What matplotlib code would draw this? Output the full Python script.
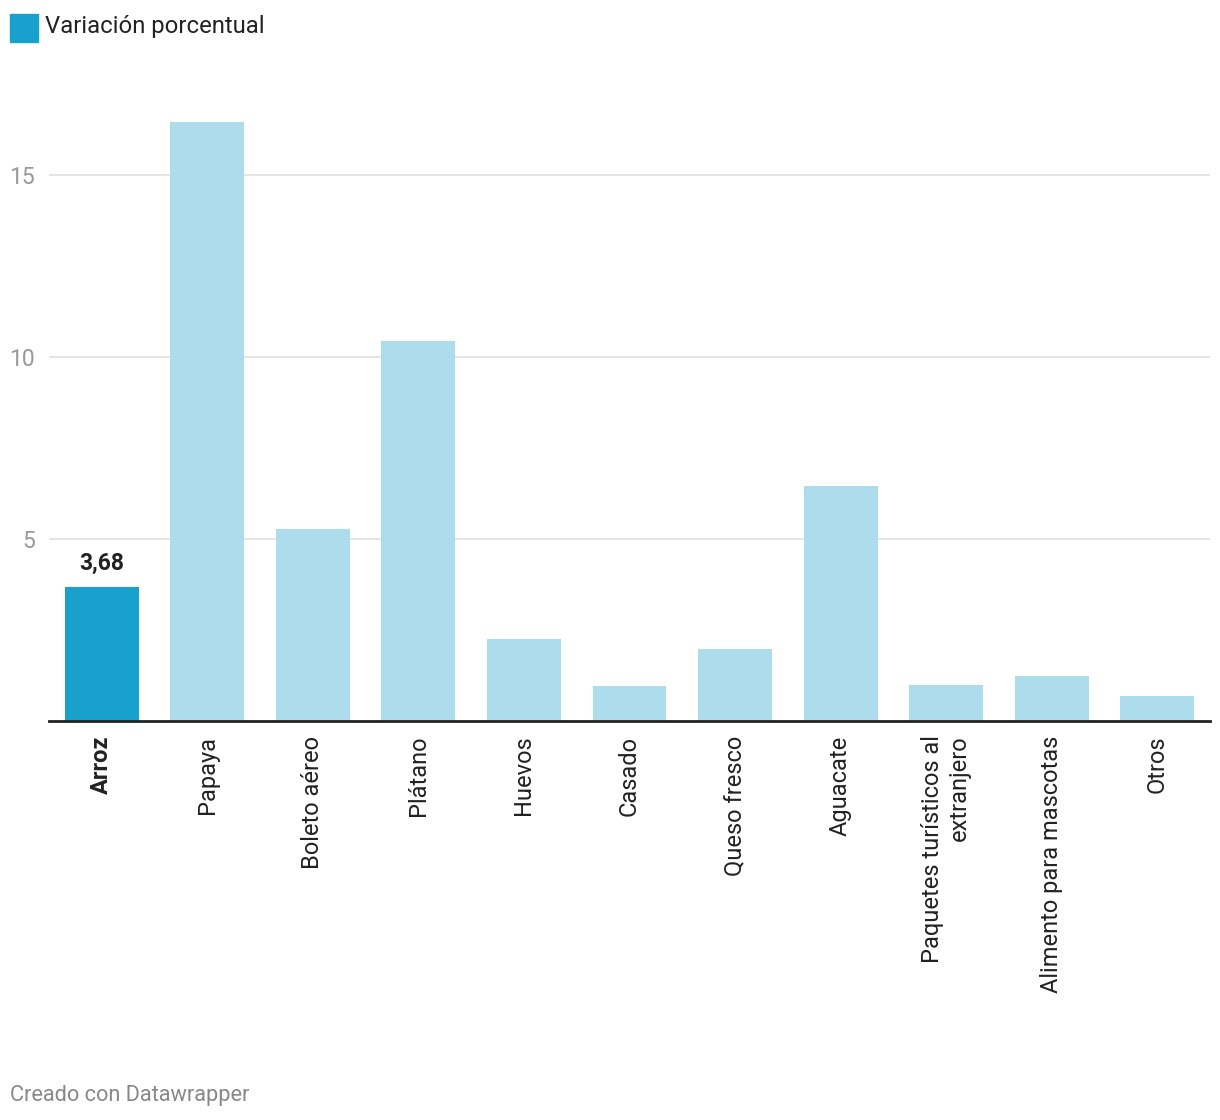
import matplotlib.pyplot as plt
import matplotlib.patches as mpatches

plt.rcParams['font.family'] = ['Roboto', 'DejaVu Sans']

# Data
categories = ["Arroz", "Papaya", "Boleto aéreo", "Plátano", "Huevos", "Casado",
              "Queso fresco", "Aguacate", "Paquetes turísticos al\nextranjero",
              "Alimento para mascotas", "Otros"]
values = [3.68, 16.46, 5.27, 10.44, 2.25, 0.96, 1.98, 6.46, 0.99, 1.24, 0.69]
highlight = "Arroz"
yticks = [5, 10, 15]
legend_label = "Variación porcentual"
footer = "Creado con Datawrapper"

dark = "#18a1cd"
light = "#addcec"
colors = [dark if c == highlight else light for c in categories]

fig = plt.figure(figsize=(12.2, 11.2), dpi=100)
ax = fig.add_axes([49 / 1220, 1 - 721 / 1120, (1210 - 49) / 1220, 618.8 / 1120])

x = list(range(len(categories)))
ax.bar(x, values, width=0.7, color=colors, zorder=2)
ax.set_xlim(-0.5, len(categories) - 0.5)
ax.set_ylim(0, 17)

# grid
for t in yticks:
    ax.axhline(t, color="#e0e0e0", linewidth=1.2, zorder=1)
ax.set_yticks(yticks)
ax.set_yticklabels([str(t) for t in yticks], color="#999999", fontsize=16.5)
ax.tick_params(axis="y", length=0, pad=10)

for s in ["top", "right", "left"]:
    ax.spines[s].set_visible(False)
ax.spines["bottom"].set_color("#222222")
ax.spines["bottom"].set_linewidth(2)
ax.spines["bottom"].set_zorder(3)

# x labels
ax.set_xticks(x)
ax.set_xticklabels([])
ax.tick_params(axis="x", length=0)
for i, c in enumerate(categories):
    ax.text(i, -0.4, c, rotation=90, ha="center", va="top", multialignment="right",
            fontsize=17, color="#222222",
            fontweight="bold" if c == highlight else "normal")

# value label on highlight
hi = categories.index(highlight)
ax.text(hi, values[hi] + 0.35, f"{values[hi]:.2f}".replace(".", ","),
        ha="center", va="bottom", fontsize=16.5, fontweight="bold", color="#222222")

# legend
fig.patches.append(mpatches.Rectangle((10 / 1220, 1 - 42 / 1120), 28 / 1220, 28 / 1120,
                                      transform=fig.transFigure, color=dark))
fig.text(45 / 1220, 1 - 27 / 1120, legend_label, ha="left", va="center",
         fontsize=17.2, color="#222222")

fig.text(10 / 1220, 1 - 1095 / 1120, footer, ha="left", va="center",
         fontsize=15.7, color="#888888")

fig.savefig("out.png", dpi=100)
